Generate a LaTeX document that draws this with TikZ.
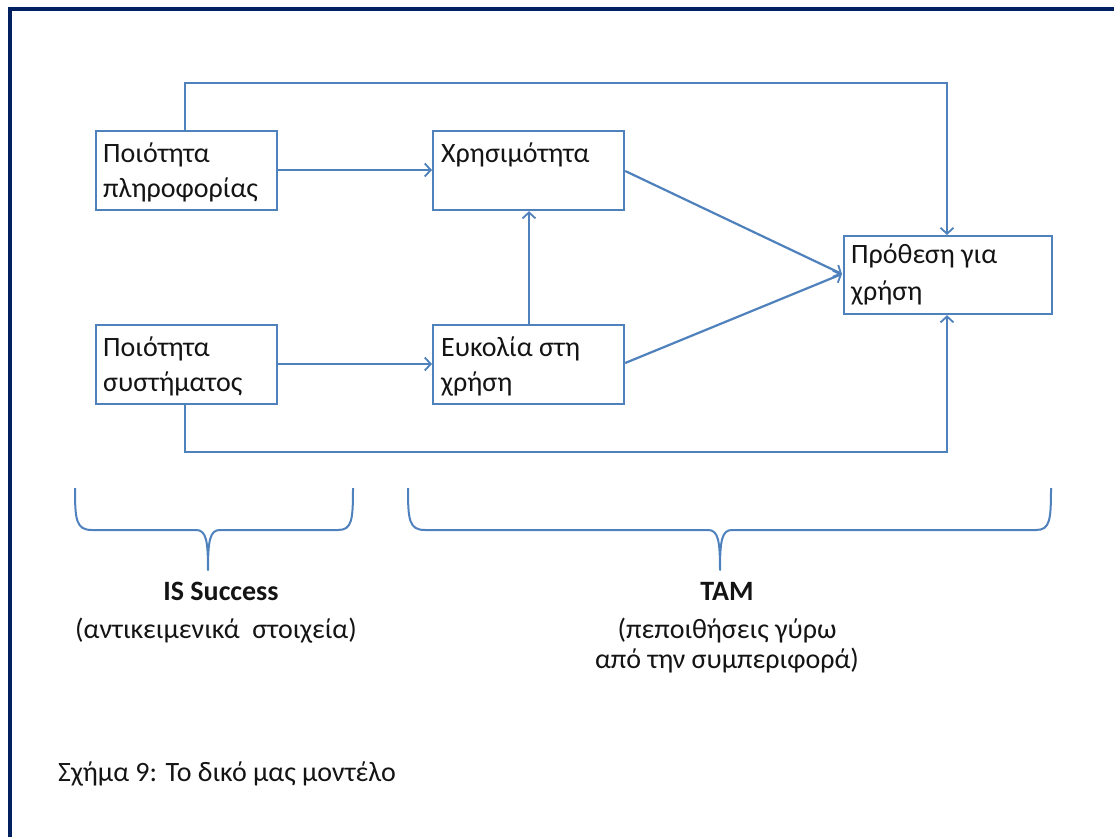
\documentclass[tikz,border=0pt]{standalone}
\usepackage{fontspec}
\setmainfont{Carlito}
\usetikzlibrary{arrows.meta}
\definecolor{linkblue}{HTML}{4F81BD}
\definecolor{framenavy}{HTML}{002060}
\definecolor{inktext}{HTML}{141414}
\begin{document}
\begin{tikzpicture}[x=1pt,y=-1pt,
  every node/.style={font=\fontsize{28}{35}\selectfont, text=inktext},
  boxnode/.style={draw=linkblue, line width=2.2pt, minimum height=79pt,
    anchor=north west, inner sep=0pt, fill=white},
  txt/.style={anchor=base west, inner sep=0pt},
  ctr/.style={anchor=base, inner sep=0pt},
  link/.style={draw=linkblue, line width=2.2pt,
    -{Straight Barb[length=6pt,width=13pt,line width=1.8pt]}},
  brace/.style={draw=linkblue, line width=2pt, line join=round}]
\useasboundingbox (0,0) rectangle (1114,837);
\fill[white] (0,0) rectangle (1114,837);
% page frame: only the top and left edges fall inside the picture
\draw[framenavy, line width=4.5pt] (10,837) -- (10,9) -- (1114,9);

% boxes
\node[boxnode, minimum width=181pt] (info) at (95,130) {};
\node[boxnode, minimum width=191pt] (use) at (432,130) {};
\node[boxnode, minimum width=181pt] (sys) at (95,324) {};
\node[boxnode, minimum width=191pt] (ease) at (432,324) {};
\node[boxnode, minimum width=208pt, minimum height=78pt] (intent) at (843,235) {};

% box texts
\node[txt] (info1) at (103,163) {Ποιότητα};
\node[txt] (info2) at (103,198) {πληροφορίας};
\node[txt] (use1) at (441,163) {Χρησιμότητα};
\node[txt] (sys1) at (103,356) {Ποιότητα};
\node[txt] (sys2) at (103,391) {συστήματος};
\node[txt] (ease1) at (441,356) {Ευκολία στη};
\node[txt] (ease2) at (441,391) {χρήση};
\node[txt] (int1) at (851,263) {Πρόθεση για};
\node[txt] (int2) at (851,300) {χρήση};

% connectors
\coordinate (meet) at (842,274);
\draw[link] (info.east |- 0,170) -- (use.west |- 0,170);
\draw[link] (sys.east |- 0,364) -- (ease.west |- 0,364);
\draw[link] (ease.north -| 529,0) -- (use.south -| 529,0);
\draw[link] (use.east |- 0,171) -- (meet);
\draw[link] (ease.east |- 0,363) -- (meet);
\draw[link] (info.north -| 185,0) |- (947,83) -- (intent.north -| 947,0);
\draw[link] (sys.south -| 185,0) |- (947,452) -- (intent.south -| 947,0);

% braces
\draw[brace] (75,488) .. controls (75,520) and (76,530) .. (92,530)
  -- (196,530) .. controls (206,530) and (208,540) .. (208,570)
  .. controls (208,540) and (210,530) .. (220,530)
  -- (338,530) .. controls (352,530) and (353,520) .. (353,488);
\draw[brace] (408,488) .. controls (408,520) and (409,530) .. (425,530)
  -- (708,530) .. controls (718,530) and (720,540) .. (720,570)
  .. controls (720,540) and (722,530) .. (732,530)
  -- (1036,530) .. controls (1050,530) and (1051,520) .. (1051,488);

% group labels
\node[ctr] (isl1) at (221,600) {\textbf{IS Success}};
\node[ctr] (isl2) at (216,638) {(αντικειμενικά\ \ στοιχεία)};
\node[ctr] (tam1) at (727,600) {\textbf{TAM}};
\node[ctr] (tam2) at (727,638) {(πεποιθήσεις γύρω};
\node[ctr] (tam3) at (727,668) {από την συμπεριφορά)};

% caption
\node[txt] (cap) at (58,781) {Σχήμα 9: Το δικό μας μοντέλο};
\end{tikzpicture}
\end{document}
